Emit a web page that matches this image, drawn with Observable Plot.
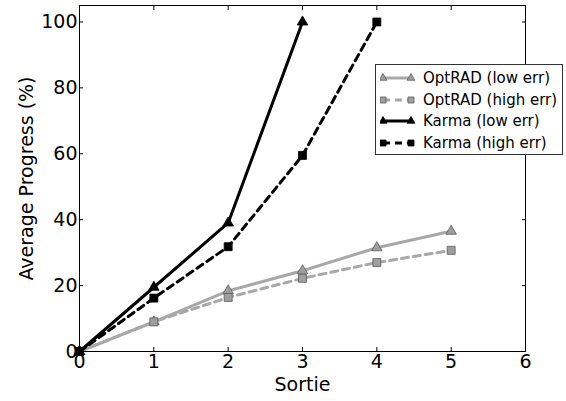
<!DOCTYPE html>
<html><head><meta charset="utf-8">
<script src="https://cdn.jsdelivr.net/npm/d3@7"></script>
<script src="https://cdn.jsdelivr.net/npm/@observablehq/plot@0.6"></script>
<style>
html,body{margin:0;padding:0;background:#fff;}
#wrap{position:relative;width:566px;height:401px;font-family:"DejaVu Sans",sans-serif;}
#legend{position:absolute;left:375px;top:64px;width:188px;height:91px;border:1px solid #333;background:#fff;box-sizing:border-box;padding-top:3px;}
.row{position:relative;height:21.5px;}
.row svg{position:absolute;left:4px;top:0;}
.row span{position:absolute;left:47px;top:0px;font-size:15px;line-height:20px;color:#000;white-space:nowrap;}
</style></head><body><div id="wrap"></div>
<script>
// ---- data ----
const sorties = [0, 1, 2, 3, 4, 5];
const optradLow = [0, 9, 18.4, 24.5, 31.5, 36.5];
const optradHigh = [0, 9, 16.4, 22.2, 27, 30.7];
const karmaLow = [0, 19.5, 39, 100];
const karmaHigh = [0, 16.2, 31.8, 59.5, 100];
const seriesNames = ["OptRAD (low err)", "OptRAD (high err)", "Karma (low err)", "Karma (high err)"];
const xTicks = [0, 1, 2, 3, 4, 5, 6];
const yTicks = [0, 20, 40, 60, 80, 100];
const xTitle = "Sortie";
const yTitle = "Average Progress (%)";

// ---- styles ----
const styles = [
  {line: "#a8a8a8", dash: null, symbol: "triangle", fill: "#9e9e9e", edge: "#5c5c5c", r: 3.9},
  {line: "#a8a8a8", dash: "7,5", symbol: "square", fill: "#9e9e9e", edge: "#5c5c5c", r: 4.5},
  {line: "#000", dash: null, symbol: "triangle", fill: "#000", edge: "#000", r: 3.9},
  {line: "#000", dash: "7,5", symbol: "square", fill: "#000", edge: "#000", r: 4.5}
];
const values = [optradLow, optradHigh, karmaLow, karmaHigh];
const series = values.map((vals, k) => vals.map((v, i) => ({x: sorties[i], y: v, name: seriesNames[k]})));

const marks = [];
series.forEach((data, k) => {
  const s = styles[k];
  marks.push(Plot.line(data, {x: "x", y: "y", stroke: s.line, strokeWidth: 3, strokeDasharray: s.dash}));
  marks.push(Plot.dot(data, {x: "x", y: "y", symbol: s.symbol, r: s.r, fill: s.fill, stroke: s.edge, strokeWidth: 0.8}));
});

const chart = Plot.plot({
  width: 566,
  height: 401,
  marginLeft: 79,
  marginRight: 41,
  marginTop: 5,
  marginBottom: 50,
  style: {fontFamily: "DejaVu Sans", fontSize: "19px", background: "#fff", color: "#000"},
  x: {domain: [0, 6], label: null},
  y: {domain: [0, 105], label: null},
  marks: [
    ...marks,
    Plot.frame({stroke: "#000", strokeWidth: 1}),
    Plot.axisX({ticks: xTicks, tickSize: 0, tickPadding: 3, tickFormat: d => String(d), label: null}),
    Plot.axisX({ticks: xTicks, anchor: "bottom", tickSize: -4, tickFormat: () => "", label: null}),
    Plot.axisX({ticks: xTicks, anchor: "top", tickSize: -4, tickFormat: () => "", label: null}),
    Plot.axisY({ticks: yTicks, tickSize: 0, tickPadding: 2, tickFormat: d => String(d), label: null}),
    Plot.axisY({ticks: yTicks, anchor: "left", tickSize: -4, tickFormat: () => "", label: null}),
    Plot.axisY({ticks: yTicks, anchor: "right", tickSize: -4, tickFormat: () => "", label: null}),
    Plot.text([xTitle], {text: d => d, frameAnchor: "bottom", textAnchor: "middle", dy: 39, fontSize: 19, fill: "#000"}),
    Plot.text([yTitle], {text: d => d, frameAnchor: "left", textAnchor: "middle", lineAnchor: "middle", dx: -53, rotate: -90, fontSize: 19, fill: "#000"})
  ]
});

const wrap = document.getElementById("wrap");
wrap.appendChild(chart);

// ---- legend ----
const legend = document.createElement("div");
legend.id = "legend";
seriesNames.forEach((name, k) => {
  const s = styles[k];
  const row = document.createElement("div");
  row.className = "row";
  const svg = d3.create("svg").attr("width", 36).attr("height", 20);
  svg.append("line").attr("x1", 3).attr("x2", 31).attr("y1", 10).attr("y2", 10)
    .attr("stroke", s.line).attr("stroke-width", 3).attr("stroke-dasharray", s.dash);
  const sym = s.symbol === "triangle" ? d3.symbolTriangle : d3.symbolSquare;
  const size = s.symbol === "triangle" ? 26 : 36;
  [3, 31].forEach(cx => {
    svg.append("path").attr("d", d3.symbol(sym, size)()).attr("transform", `translate(${cx},10)`)
      .attr("fill", s.fill).attr("stroke", s.edge).attr("stroke-width", 0.8);
  });
  row.appendChild(svg.node());
  const span = document.createElement("span");
  span.textContent = name;
  row.appendChild(span);
  legend.appendChild(row);
});
wrap.appendChild(legend);
</script>
</body></html>
